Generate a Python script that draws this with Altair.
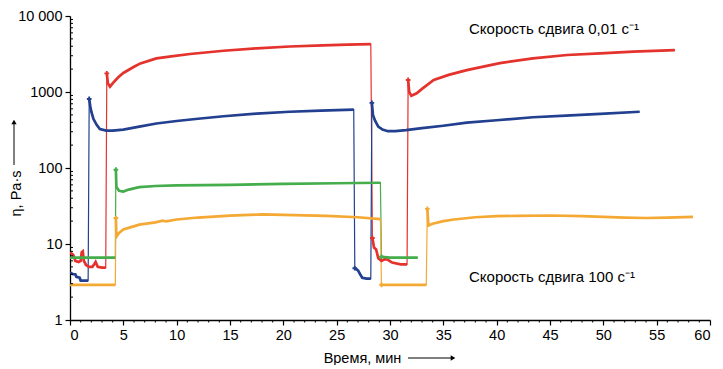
import altair as alt
import pandas as pd

# ---- data (time in min, viscosity in Pa·s) ----
red_t = [0, 0.3, 0.5, 0.8, 1.0, 1.1, 1.2, 1.3, 1.5, 1.8, 2.1, 2.3, 2.4, 2.6, 3.0, 3.35,
         3.45, 3.55, 3.75, 4.0, 4.5, 5, 6, 6.6, 8.1, 9.5, 11.25, 14.4, 17.5, 20.6, 23.7, 26, 28.2,
         28.35, 28.5, 28.7, 28.9, 29.2, 29.5, 29.8, 30.2, 31, 31.6,
         31.7, 31.8, 32.0, 32.5, 33, 34.1, 35.5, 37.2, 40.3, 43.4, 46.6, 49.7, 52.8, 56.7]
red_v = [7.8, 7.2, 6.0, 5.8, 6.0, 7.8, 8.0, 6.0, 5.3, 5.0, 5.0, 5.5, 5.8, 5.0, 4.9, 4.9,
         1760, 1300, 1175, 1300, 1550, 1780, 2150, 2380, 2770, 2950, 3160, 3490, 3760, 3970, 4100, 4200, 4260,
         12, 9, 8.5, 6.5, 6.0, 6.3, 6.2, 5.7, 5.4, 5.4,
         1440, 1000, 890, 960, 1100, 1440, 1680, 1940, 2400, 2770, 3070, 3230, 3390, 3550]
red_seg = [0] * 16 + [1] * 17 + [2] * 10 + [3] * 14

blue_t = [0, 0.3, 0.5, 0.6, 0.9, 1.0, 1.3, 1.7,
          1.8, 1.9, 2.0, 2.2, 2.5, 2.8, 3.4, 4.0, 5, 6.5, 8.1, 10, 12, 14.4, 17.5, 20.6, 23.5, 26.6,
          26.7, 27.0, 27.2, 27.4, 27.8, 28.2,
          28.3, 28.4, 28.6, 28.9, 29.3, 29.8, 30.5, 31.5, 33, 35, 37.2, 40, 43.4, 46.5, 49.7, 53.4]
blue_v = [4.2, 4.0, 4.0, 3.7, 3.6, 3.3, 3.3, 3.3,
          810, 650, 550, 440, 370, 325, 310, 310, 320, 350, 385, 415, 445, 480, 520, 550, 568, 585,
          4.8, 4.5, 4.0, 3.6, 3.5, 3.5,
          720, 500, 420, 350, 320, 305, 305, 315, 335, 360, 395, 425, 465, 490, 515, 550]
blue_seg = [0] * 8 + [1] * 18 + [2] * 6 + [3] * 16

green_t = [0, 4.25,
           4.3, 4.35, 4.6, 5.0, 5.5, 6.5, 8, 10, 15, 20, 25, 29.1,
           29.2, 30, 32.6]
green_v = [6.6, 6.6,
           95, 56, 50, 49, 52, 56, 58, 59, 60, 62, 63, 64,
           6.8, 6.6, 6.6]
green_seg = [0] * 2 + [1] * 12 + [2] * 3

orange_t = [0, 4.25,
            4.3, 4.35, 4.6, 5, 5.5, 6.5, 8, 8.7, 9, 10, 12, 15, 18, 21, 24, 27, 29.1,
            29.2, 33.4,
            33.5, 33.6, 34, 35, 36, 38, 40, 42, 45, 48, 50, 52, 54, 56, 58.4]
orange_v = [2.9, 2.9,
            22, 12.5, 14, 15.5, 16.3, 18, 19.3, 20.3, 19.8, 21, 22.3, 23.6, 24.5, 24, 23.5, 22.5, 21.2,
            2.9, 2.9,
            29, 17.5, 18.5, 20, 21, 22.5, 23.2, 23.5, 23.7, 23.3, 22.8, 22.3, 22, 22.3, 22.8]
orange_seg = [0] * 2 + [1] * 17 + [2] * 2 + [3] * 15

series_names = ["red", "blue", "green", "orange"]
series_colors = ["#e4322d", "#22408f", "#45ad4b", "#f5a935"]

x_ticks = list(range(0, 61, 5))
x_minor = [i for i in range(0, 61) if i % 5 != 0]
y_ticks = [1, 10, 100, 1000, 10000]
y_minor = [m * 10 ** d for d in range(0, 4) for m in range(2, 10)]

label_top = "Скорость сдвига 0,01 с⁻¹"
label_bottom = "Скорость сдвига 100 с⁻¹"
x_title = "Время, мин"
y_title = "η, Pa·s"

# ---- build table ----
frames = []
for name, t, v, s in [("red", red_t, red_v, red_seg), ("blue", blue_t, blue_v, blue_seg),
                      ("green", green_t, green_v, green_seg), ("orange", orange_t, orange_v, orange_seg)]:
    df = pd.DataFrame({"t": t, "v": v, "seg": s})
    df["series"] = name
    df["i"] = range(len(df))
    df["segkey"] = name + "_" + df["seg"].astype(str)
    df["peak"] = (df["seg"] > 0) & (df["seg"] != df["seg"].shift(1))
    frames.append(df)
data = pd.concat(frames, ignore_index=True)

FONT = "Liberation Sans"
FS = 14.5
xscale = alt.Scale(domain=[0, 60], nice=False, zero=False)
yscale = alt.Scale(type="log", domain=[1, 10000], nice=False)
color = alt.Color("series:N", scale=alt.Scale(domain=series_names, range=series_colors), legend=None)

x_axis = alt.Axis(values=x_ticks, title=x_title, tickSize=5, labelPadding=3, orient="bottom",
                  titleX=292, titleY=38, titleAlign="center", titleBaseline="middle",
                  titleFontWeight="normal", titleFontSize=FS, titleFont=FONT, grid=False)
y_axis = alt.Axis(values=y_ticks, title=y_title, tickSize=5, labelPadding=3, orient="left",
                  labelExpr="datum.value == 10000 ? '10 000' : format(datum.value, 'd')",
                  titleX=-54, titleY=177, titleAlign="center", titleBaseline="middle",
                  titleFontWeight="normal", titleFontSize=FS, titleFont=FONT, grid=False)

base = alt.Chart(data)

thin = base.mark_line(strokeWidth=1.2, clip=True).encode(
    x=alt.X("t:Q", scale=xscale, axis=x_axis),
    y=alt.Y("v:Q", scale=yscale, axis=y_axis),
    color=color, detail="series:N", order="i:Q")

thick = base.mark_line(strokeWidth=2.7, clip=True).encode(
    x=alt.X("t:Q", scale=xscale, axis=None),
    y=alt.Y("v:Q", scale=yscale, axis=None),
    color=color, detail="segkey:N", order="i:Q")

peaks = base.transform_filter("datum.peak").mark_point(shape="cross", size=22, filled=True, opacity=1).encode(
    x=alt.X("t:Q", scale=xscale, axis=None),
    y=alt.Y("v:Q", scale=yscale, axis=None),
    color=color)

# minor ticks
xminor = alt.Chart(pd.DataFrame({"m": x_minor})).mark_rule(color="black", strokeWidth=1).encode(
    x=alt.X("m:Q", scale=xscale, axis=None), y=alt.value(304), y2=alt.value(306.5))
yminor = alt.Chart(pd.DataFrame({"m": y_minor})).mark_rule(color="black", strokeWidth=1).encode(
    y=alt.Y("m:Q", scale=yscale, axis=None), x=alt.value(0), x2=alt.value(3))

# axis-title arrows
arrow_df = pd.DataFrame({"k": [0]})
x_arrow_line = alt.Chart(arrow_df).mark_rule(color="black", strokeWidth=1).encode(
    x=alt.value(338), x2=alt.value(382), y=alt.value(342))
x_arrow_head = alt.Chart(arrow_df).mark_point(shape="triangle-right", filled=True, color="black",
                                              size=28, opacity=1).encode(
    x=alt.value(383), y=alt.value(342))
y_arrow_line = alt.Chart(arrow_df).mark_rule(color="black", strokeWidth=1).encode(
    x=alt.value(-56), y=alt.value(149), y2=alt.value(107))
y_arrow_head = alt.Chart(arrow_df).mark_point(shape="triangle-up", filled=True, color="black",
                                              size=28, opacity=1).encode(
    x=alt.value(-56), y=alt.value(106))

txt1 = alt.Chart(pd.DataFrame({"s": [label_top]})).mark_text(
    align="left", baseline="middle", font=FONT, fontSize=15, color="black").encode(
    x=alt.value(399), y=alt.value(13), text="s:N")
txt2 = alt.Chart(pd.DataFrame({"s": [label_bottom]})).mark_text(
    align="left", baseline="middle", font=FONT, fontSize=15, color="black").encode(
    x=alt.value(399), y=alt.value(261), text="s:N")

chart = alt.layer(thin, thick, peaks, xminor, yminor, x_arrow_line, x_arrow_head,
                  y_arrow_line, y_arrow_head, txt1, txt2).resolve_axis(
    x="independent", y="independent"
).properties(
    width=640, height=304,
    autosize=alt.AutoSizeParams(type="none"),
    padding={"left": 62, "top": 8, "right": 5, "bottom": 45},
).configure_view(stroke=None).configure_axis(
    labelFont=FONT, labelFontSize=FS, labelColor="black",
    domainColor="black", tickColor="black", domainWidth=1.3, tickWidth=1.2,
    titleColor="black", titleFontWeight="normal"
)

chart.save("out.html", embed_options={"renderer": "svg", "actions": False})
